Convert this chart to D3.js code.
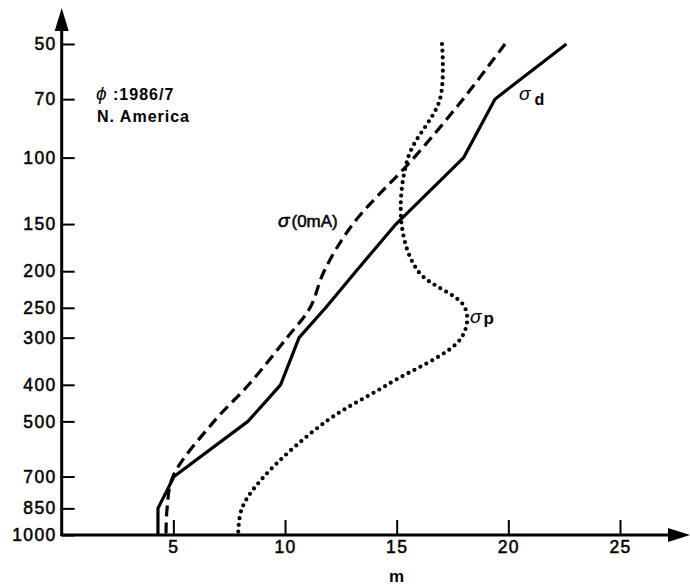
<!DOCTYPE html>
<html>
<head>
<meta charset="utf-8">
<script src="https://cdn.jsdelivr.net/npm/d3@7"></script>
<style>
  body { margin: 0; background: #fff; }
  svg { display: block; font-family: "Liberation Sans", Arial, sans-serif; }
</style>
</head>
<body>
<div id="wrapper"></div>
<script>
// pressure levels (hPa) on the vertical axis
const levels = [50, 70, 100, 150, 200, 250, 300, 400, 500, 700, 850, 1000]
// values in m
const sigmaD = [22.6, 19.4, 18.0, 14.97, 13.18, 11.82, 10.63, 9.8, 8.34, 5.03, 4.31, 4.31]
const sigma0mA = [19.85, 17.97, 15.78, 13.04, 11.75, 11.12, 10.09, 8.37, 6.82, 4.98, 4.72, 4.67]
const sigmaP = [17.03, 16.94, 15.51, 15.22, 15.96, 18.06, 17.9, 14.57, 11.84, 9.06, 8.07, 7.9]
const xTicks = [5, 10, 15, 20, 25]

const width = 690, height = 587

const svg = d3.select("#wrapper")
    .append("svg")
    .attr("width", width)
    .attr("height", height)

const x = d3.scaleLinear()
    .domain([0, 25])
    .range([61.7, 620])

const y = d3.scaleLog()
    .domain([1000, 50])
    .range([535, 44])

// y axis, ticks pointing inwards
const yAxis = svg.append("g")
    .attr("transform", `translate(${x(0)},0)`)
    .call(d3.axisLeft(y).tickValues(levels).tickFormat(d3.format("d")).tickSize(-13).tickPadding(5))
yAxis.select(".domain").remove()

// x axis, ticks pointing up
const xAxis = svg.append("g")
    .attr("transform", `translate(0,${y(1000)})`)
    .call(d3.axisBottom(x).tickValues(xTicks).tickSize(-15).tickPadding(5.5))
xAxis.select(".domain").remove()

svg.selectAll(".tick line").attr("stroke", "#000").attr("stroke-width", 2)
svg.selectAll(".tick text")
    .attr("fill", "#000")
    .attr("stroke", "#000")
    .attr("stroke-width", 0.5)
    .style("font-size", "17.5px")
    .style("letter-spacing", "1.4px")

// axis lines with arrows
svg.append("line")
    .attr("x1", x(0)).attr("y1", y(1000) + 1)
    .attr("x2", x(0)).attr("y2", 20)
    .attr("stroke", "#000").attr("stroke-width", 3)
svg.append("path")
    .attr("d", `M${x(0)},8 L${x(0) - 7},31 L${x(0) + 7},31 Z`)
    .attr("fill", "#000")
svg.append("line")
    .attr("x1", x(0) - 1).attr("y1", y(1000))
    .attr("x2", 680).attr("y2", y(1000))
    .attr("stroke", "#000").attr("stroke-width", 3)
svg.append("path")
    .attr("d", `M690,${y(1000)} L668,${y(1000) - 7} L668,${y(1000) + 7} Z`)
    .attr("fill", "#000")

svg.append("text")
    .attr("x", x(15)).attr("y", 582)
    .attr("text-anchor", "middle")
    .style("font-size", "17px")
    .style("font-weight", "bold")
    .text("m")

// profiles
const lineLinear = d3.line()
    .x(d => x(d[0]))
    .y(d => y(d[1]))
const lineSmooth = d3.line()
    .x(d => x(d[0]))
    .y(d => y(d[1]))
    .curve(d3.curveCatmullRom.alpha(0.5))

svg.append("path")
    .datum(d3.zip(sigmaD, levels))
    .attr("d", lineLinear)
    .attr("fill", "none")
    .attr("stroke", "#000")
    .attr("stroke-width", 3.2)
    .attr("stroke-linejoin", "round")

svg.append("path")
    .datum(d3.zip(sigma0mA, levels))
    .attr("d", lineSmooth)
    .attr("fill", "none")
    .attr("stroke", "#000")
    .attr("stroke-width", 3.2)
    .attr("stroke-dasharray", "11,6")

svg.append("path")
    .datum(d3.zip(sigmaP, levels))
    .attr("d", lineSmooth)
    .attr("fill", "none")
    .attr("stroke", "#000")
    .attr("stroke-width", 4.2)
    .attr("stroke-linecap", "round")
    .attr("stroke-dasharray", "0,6.7")

// labels
const sd = svg.append("text").attr("x", 519).attr("y", 100)
sd.append("tspan").style("font-size", "19px").style("font-style", "italic").text("σ")
sd.append("tspan").attr("dx", 4).attr("dy", 5).style("font-size", "16px").style("font-weight", "bold").text("d")

const s0 = svg.append("text").attr("x", 278).attr("y", 227)
    .style("font-size", "17px").attr("stroke", "#000").attr("stroke-width", 0.5)
s0.append("tspan").style("font-style", "italic").style("font-size", "19px").text("σ")
s0.append("tspan").attr("dx", 2).text("(0mA)")

const sp = svg.append("text").attr("x", 470).attr("y", 323)
sp.append("tspan").style("font-size", "19px").style("font-style", "italic").text("σ")
sp.append("tspan").attr("dx", 2).attr("dy", 1).style("font-size", "17px").style("font-weight", "bold").text("p")

const note = svg.append("text").attr("x", 96).attr("y", 100)
    .style("font-size", "16px").style("font-weight", "bold").style("letter-spacing", "1px")
note.append("tspan").style("font-style", "italic").style("font-weight", "normal").style("font-size", "19px").text("ϕ")
note.append("tspan").text(" :1986/7")
svg.append("text").attr("x", 97).attr("y", 122)
    .style("font-size", "16px").style("font-weight", "bold").style("letter-spacing", "1px")
    .text("N. America")
</script>
</body>
</html>
